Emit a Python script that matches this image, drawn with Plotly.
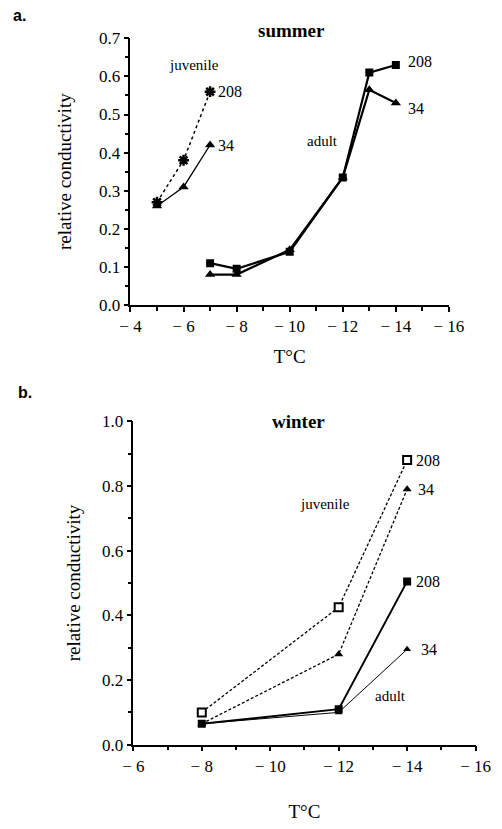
import plotly.graph_objects as go

# ---------------- data ----------------
# panel a (summer)
sum_juv_T = [-5, -6, -7]
sum_juv_208 = [0.27, 0.38, 0.56]
sum_juv_34 = [0.26, 0.31, 0.42]
sum_ad_T = [-7, -8, -10, -12, -13, -14]
sum_ad_208 = [0.11, 0.095, 0.14, 0.335, 0.61, 0.63]
sum_ad_34 = [0.08, 0.08, 0.145, 0.335, 0.565, 0.53]

# panel b (winter)
win_T = [-8, -12, -14]
win_juv_208 = [0.10, 0.425, 0.88]
win_juv_34 = [0.065, 0.28, 0.79]
win_ad_208 = [0.065, 0.11, 0.505]
win_ad_34 = [0.065, 0.10, 0.295]

# ticks
a_xticks = [-4, -6, -8, -10, -12, -14, -16]
a_xticklabels = ["\u2212 4", "\u2212 6", "\u2212 8", "\u2212 10", "\u2212 12", "\u2212 14", "\u2212 16"]
a_yticks = [0.0, 0.1, 0.2, 0.3, 0.4, 0.5, 0.6, 0.7]
b_xticks = [-6, -8, -10, -12, -14, -16]
b_xticklabels = ["\u2212 6", "\u2212 8", "\u2212 10", "\u2212 12", "\u2212 14", "\u2212 16"]
b_yticks = [0.0, 0.2, 0.4, 0.6, 0.8, 1.0]

FONT = "Liberation Serif, Times New Roman, serif"
BLACK = "#000000"

fig = go.Figure()

def add(x, y, symbol, size, dash, width, xa, ya, mcolor=BLACK, mline=0):
    fig.add_trace(go.Scatter(
        x=x, y=y, mode="lines+markers", xaxis=xa, yaxis=ya,
        line=dict(color=BLACK, width=width, dash=dash),
        marker=dict(symbol=symbol, size=size, color=mcolor,
                    line=dict(color=BLACK, width=mline)),
        showlegend=False, hoverinfo="skip"))

# summer
add(sum_juv_T, sum_juv_208, "asterisk-open", 9, "dot", 1.5, "x", "y", mline=2.5)
add(sum_juv_T, sum_juv_34, "triangle-up", 9, "solid", 1.3, "x", "y")
add(sum_ad_T, sum_ad_208, "square", 8, "solid", 2.2, "x", "y")
add(sum_ad_T, sum_ad_34, "triangle-up", 9, "solid", 2.2, "x", "y")

# winter
add(win_T, win_juv_208, "square", 8, "3px,2px", 1.3, "x2", "y2", mcolor="white", mline=2)
add(win_T, win_juv_34, "triangle-up", 8, "3px,2px", 1.3, "x2", "y2")
add(win_T, win_ad_208, "square", 8, "solid", 2, "x2", "y2")
add(win_T, win_ad_34, "triangle-up", 7, "solid", 1, "x2", "y2")

axis_common = dict(showline=True, linecolor=BLACK, linewidth=1.5, showgrid=False,
                   zeroline=False, ticks="outside", ticklen=5, tickwidth=1.5,
                   tickcolor=BLACK, tickfont=dict(family=FONT, size=17, color=BLACK),
                   mirror=False)
minor_common = dict(ticks="outside", ticklen=4, tickwidth=1.5, tickcolor=BLACK)
title_font = dict(family=FONT, size=19, color=BLACK)

fig.update_layout(
    width=502, height=829,
    margin=dict(l=0, r=0, t=0, b=0),
    paper_bgcolor="white", plot_bgcolor="white",
    font=dict(family=FONT, color=BLACK, size=16),
    xaxis=dict(domain=[0.251, 0.920], anchor="y", range=[-4, -16],
               tickmode="array", tickvals=a_xticks, ticktext=a_xticklabels,
               minor=dict(tickmode="linear", tick0=0, dtick=1, **minor_common),
               title=dict(text="T\u00b0C", font=title_font, standoff=14),
               **axis_common),
    yaxis=dict(domain=[0.6345, 0.9638], anchor="x", range=[0, 0.7],
               tickmode="array", tickvals=a_yticks, tickformat=".1f",
               minor=dict(tickmode="linear", tick0=0, dtick=0.05, **minor_common),
               title=dict(text="relative conductivity", font=title_font, standoff=22),
               **axis_common),
    xaxis2=dict(domain=[0.257, 0.976], anchor="y2", range=[-6, -16],
                tickmode="array", tickvals=b_xticks, ticktext=b_xticklabels,
                minor=dict(tickmode="linear", tick0=0, dtick=1, **minor_common),
                title=dict(text="T\u00b0C", font=title_font, standoff=30),
                **axis_common),
    yaxis2=dict(domain=[0.0917, 0.491], anchor="x2", range=[0, 1.0],
                tickmode="array", tickvals=b_yticks, tickformat=".1f",
                minor=dict(tickmode="linear", tick0=0, dtick=0.1, **minor_common),
                title=dict(text="relative conductivity", font=title_font, standoff=16),
                **axis_common),
)

ann = []
def note(text, x, y, xref, yref, xanchor="center", xshift=0, size=16, bold=False, fam=FONT):
    ann.append(dict(text=("<b>%s</b>" % text) if bold else text, x=x, y=y, xref=xref, yref=yref,
                    xanchor=xanchor, yanchor="middle", xshift=xshift, showarrow=False,
                    font=dict(family=fam, size=size, color=BLACK)))

# panel a labels
note("summer", 0.59, 0.9735, "paper", "paper", size=19, bold=True)
note("juvenile", -6.4, 0.63, "x", "y", size=15)
note("208", sum_juv_T[-1], sum_juv_208[-1], "x", "y", "left", 6)
note("34", sum_juv_T[-1], sum_juv_34[-1], "x", "y", "left", 6)
note("adult", -11.25, 0.43, "x", "y", size=15)
note("208", sum_ad_T[-1], 0.64, "x", "y", "left", 10)
note("34", sum_ad_T[-1], 0.515, "x", "y", "left", 10)

# panel b labels
note("winter", 0.604, 0.491, "paper", "paper", size=19, bold=True)
note("juvenile", -11.6, 0.745, "x2", "y2", size=15)
note("208", win_T[-1], win_juv_208[-1], "x2", "y2", "left", 7)
note("34", win_T[-1], win_juv_34[-1], "x2", "y2", "left", 9)
note("208", win_T[-1], win_ad_208[-1], "x2", "y2", "left", 7)
note("34", win_T[-1], win_ad_34[-1], "x2", "y2", "left", 12)
note("adult", -13.5, 0.15, "x2", "y2", size=15)

# panel letters
note("a.", 0.0, 0.992, "paper", "paper", "left", size=16, bold=True, fam="Liberation Sans")
note("b.", 0.01, 0.527, "paper", "paper", "left", size=16, bold=True, fam="Liberation Sans")

fig.update_layout(annotations=ann)
fig.write_html("out.html", config={"displayModeBar": False},
               post_script="document.body.style.margin='0';document.body.style.padding='0';")
